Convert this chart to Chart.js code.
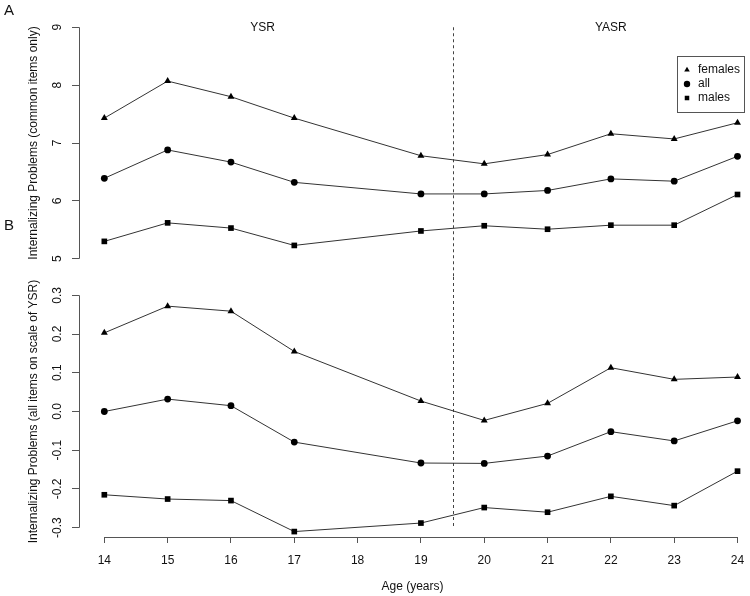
<!DOCTYPE html>
<html>
<head>
<meta charset="utf-8">
<script src="https://cdn.jsdelivr.net/npm/chart.js@4"></script>
<style>
  body { margin: 0; background: #fff; }
  #wrap { position: relative; width: 750px; height: 596px; }
  #wrap canvas { position: absolute; left: 0; }
</style>
</head>
<body>
<div id="wrap">
  <canvas id="chartA" width="750" height="277" style="top:0"></canvas>
  <canvas id="chartB" width="750" height="319" style="top:277px"></canvas>
</div>
<script>
// ages measured (no wave at 18)
const ages = [14, 15, 16, 17, 19, 20, 21, 22, 23, 24];
const ageTicks = [14, 15, 16, 17, 18, 19, 20, 21, 22, 23, 24];
const seriesNames = ["females", "all", "males"];

// panel A: common items only
const commonFemales = [7.43, 8.07, 7.80, 7.43, 6.78, 6.64, 6.80, 7.16, 7.07, 7.35];
const commonAll     = [6.39, 6.88, 6.67, 6.32, 6.12, 6.12, 6.18, 6.38, 6.34, 6.77];
const commonMales   = [5.30, 5.62, 5.53, 5.23, 5.48, 5.57, 5.51, 5.58, 5.58, 6.11];
const commonTicks = [5, 6, 7, 8, 9];

// panel B: all items on scale of YSR
const ysrFemales = [0.203, 0.272, 0.259, 0.155, 0.027, -0.023, 0.021, 0.113, 0.083, 0.089];
const ysrAll     = [0.000, 0.032, 0.015, -0.079, -0.133, -0.134, -0.115, -0.052, -0.076, -0.024];
const ysrMales   = [-0.215, -0.226, -0.230, -0.310, -0.288, -0.248, -0.260, -0.219, -0.243, -0.154];
const ysrTicks = [-0.3, -0.2, -0.1, 0.0, 0.1, 0.2, 0.3];

const cutAge = 19.5;

Chart.defaults.font.family = '"Liberation Sans", Arial, Helvetica, sans-serif';
Chart.defaults.font.size = 12;
Chart.defaults.color = "#111";

const styles = ["triangle", "circle", "rect"];
const radii = [4, 3.4, 4];

function makeSets(lists) {
  return lists.map((vals, i) => ({
    label: seriesNames[i],
    data: vals.map((v, j) => ({ x: ages[j], y: v })),
    borderColor: "#333",
    borderWidth: 1,
    pointStyle: styles[i],
    pointRadius: radii[i],
    pointBackgroundColor: "#000",
    pointBorderColor: "#000",
    pointBorderWidth: 0,
    tension: 0,
  }));
}

// keep the plot area fixed: no extra room for edge labels
function noPad(s) {
  s.paddingTop = 0;
  s.paddingBottom = 0;
  s.paddingLeft = 0;
  s.paddingRight = 0;
}

// R-like axes: lines only between first and last tick, dashed cut line, labels
function panelPlugin(opts) {
  return {
    id: "panel" + opts.tag,
    beforeDatasetsDraw(chart) {
      const { ctx, chartArea, scales } = chart;
      const x = scales.x, y = scales.y;
      ctx.save();
      ctx.strokeStyle = "#555";
      ctx.lineWidth = 1;
      ctx.beginPath();
      const ax = Math.round(chartArea.left) + 0.5;
      ctx.moveTo(ax, y.getPixelForValue(opts.yTicks[0]));
      ctx.lineTo(ax, y.getPixelForValue(opts.yTicks[opts.yTicks.length - 1]));
      if (opts.xAxis) {
        const ay = Math.round(chartArea.bottom) + 0.5;
        ctx.moveTo(x.getPixelForValue(ageTicks[0]), ay);
        ctx.lineTo(x.getPixelForValue(ageTicks[ageTicks.length - 1]), ay);
      }
      ctx.stroke();

      // dashed separator YSR / YASR
      const cx = Math.round(x.getPixelForValue(cutAge)) + 0.5;
      ctx.strokeStyle = "#444";
      ctx.setLineDash([3, 3]);
      ctx.beginPath();
      if (opts.tag === "A") {
        ctx.moveTo(cx, y.getPixelForValue(9));
        ctx.lineTo(cx, chart.height);
      } else {
        ctx.moveTo(cx, 0);
        ctx.lineTo(cx, y.getPixelForValue(-0.3));
      }
      ctx.stroke();
      ctx.setLineDash([]);

      ctx.fillStyle = "#111";
      ctx.textAlign = "center";
      ctx.textBaseline = "middle";
      if (opts.tag === "A") {
        ctx.font = '12px "Liberation Sans", Arial, sans-serif';
        ctx.fillText("YSR", x.getPixelForValue(16.5), y.getPixelForValue(9));
        ctx.fillText("YASR", x.getPixelForValue(22), y.getPixelForValue(9));
        ctx.font = '15px "Liberation Sans", Arial, sans-serif';
        ctx.fillText("A", 9, 11);
        ctx.fillText("B", 9, 226);
      }
      ctx.restore();
    },
    afterDraw(chart) {
      if (opts.tag !== "A") return;
      const { ctx } = chart;
      ctx.save();
      ctx.strokeStyle = "#555";
      ctx.lineWidth = 1;
      ctx.strokeRect(677.5, 56.5, 67, 56);
      ctx.font = '12px "Liberation Sans", Arial, sans-serif';
      ctx.textAlign = "left";
      ctx.textBaseline = "middle";
      chart.data.datasets.forEach((ds, i) => {
        const ly = 70 + i * 14;
        ctx.fillStyle = "#000";
        ctx.strokeStyle = "#000";
        Chart.helpers.drawPoint(ctx, { pointStyle: ds.pointStyle, radius: 3.2, rotation: 0, borderWidth: 0 }, 687, ly);
        ctx.fillStyle = "#111";
        ctx.fillText(ds.label, 698, ly);
      });
      ctx.restore();
    },
  };
}

const xRange = { min: 13.6, max: 24.134 };

new Chart(document.getElementById("chartA"), {
  type: "line",
  data: { datasets: makeSets([commonFemales, commonAll, commonMales]) },
  options: {
    responsive: false,
    animation: false,
    devicePixelRatio: 1,
    layout: { padding: { top: 18, bottom: 9, left: 0, right: 0 } },
    plugins: { legend: { display: false }, tooltip: { enabled: false } },
    scales: {
      x: { type: "linear", display: false, min: xRange.min, max: xRange.max },
      y: {
        type: "linear", min: 4.84, max: 9.16,
        afterFit: (s) => { s.width = 79; noPad(s); },
        afterBuildTicks: (s) => { s.ticks = commonTicks.map((v) => ({ value: v })); },
        border: { display: false },
        grid: { drawOnChartArea: false, tickLength: 7, color: "#555" },
        ticks: { minRotation: 90, maxRotation: 90, crossAlign: "center", padding: 11, callback: (v) => String(v) },
        title: { display: true, text: "Internalizing Problems (common items only)", padding: { top: 26, bottom: 0 } },
      },
    },
  },
  plugins: [panelPlugin({ tag: "A", yTicks: commonTicks, xAxis: false })],
});

new Chart(document.getElementById("chartB"), {
  type: "line",
  data: { datasets: makeSets([ysrFemales, ysrAll, ysrMales]) },
  options: {
    responsive: false,
    animation: false,
    devicePixelRatio: 1,
    layout: { padding: { top: 9, bottom: 0, left: 0, right: 0 } },
    plugins: { legend: { display: false }, tooltip: { enabled: false } },
    scales: {
      x: {
        type: "linear", min: xRange.min, max: xRange.max,
        afterFit: (s) => { s.height = 59; noPad(s); },
        afterBuildTicks: (s) => { s.ticks = ageTicks.map((v) => ({ value: v })); },
        border: { display: false },
        grid: { drawOnChartArea: false, tickLength: 6, color: "#555" },
        ticks: { padding: 10, maxRotation: 0, autoSkip: false, callback: (v) => String(v) },
        title: { display: true, text: "Age (years)", padding: { top: 0, bottom: 2 } },
      },
      y: {
        type: "linear", min: -0.324, max: 0.324,
        afterFit: (s) => { s.width = 79; noPad(s); },
        afterBuildTicks: (s) => { s.ticks = ysrTicks.map((v) => ({ value: v })); },
        border: { display: false },
        grid: { drawOnChartArea: false, tickLength: 7, color: "#555" },
        ticks: { minRotation: 90, maxRotation: 90, crossAlign: "center", padding: 4, callback: (v) => Number(v).toFixed(1) },
        title: { display: true, text: "Internalizing Problems (all items on scale of YSR)", padding: { top: 26, bottom: 0 } },
      },
    },
  },
  plugins: [panelPlugin({ tag: "B", yTicks: ysrTicks, xAxis: true })],
});
</script>
</body>
</html>
